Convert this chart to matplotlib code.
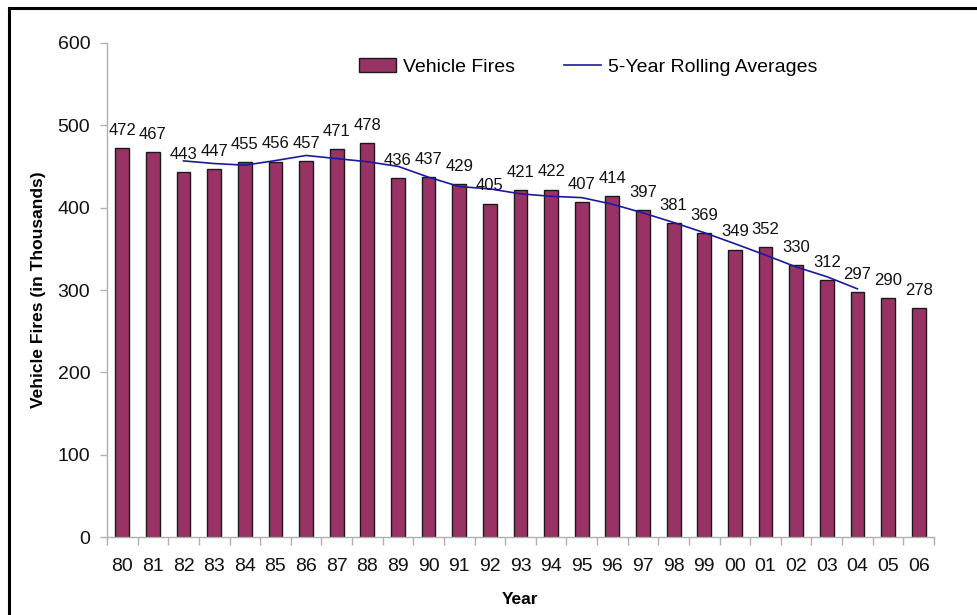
import matplotlib
matplotlib.use("Agg")
import matplotlib.pyplot as plt
from matplotlib.lines import Line2D
from matplotlib.patches import Patch

plt.rcParams['font.family'] = ['Liberation Sans', 'DejaVu Sans']

years = ["80", "81", "82", "83", "84", "85", "86", "87", "88", "89", "90", "91", "92",
         "93", "94", "95", "96", "97", "98", "99", "00", "01", "02", "03", "04", "05", "06"]
fires = [472, 467, 443, 447, 455, 456, 457, 471, 478, 436, 437, 429, 405,
         421, 422, 407, 414, 397, 381, 369, 349, 352, 330, 312, 297, 290, 278]
# 5-year rolling averages, plotted from 82 to 04
avg_years = ["82", "83", "84", "85", "86", "87", "88", "89", "90", "91", "92", "93",
             "94", "95", "96", "97", "98", "99", "00", "01", "02", "03", "04"]
avg_values = [456.8, 453.6, 451.6, 457.2, 463.4, 459.6, 455.8, 450.2, 437.0, 425.6,
              422.8, 416.8, 413.8, 412.2, 404.2, 393.6, 382.0, 369.6, 356.2, 342.4,
              328.0, 316.2, 301.4]

bar_color = "#993366"
line_color = "#1a1a9c"
axis_gray = "#b0b0b0"

fig = plt.figure(figsize=(9.77, 6.15), dpi=100)
ax = fig.add_axes([0.1095, 0.1268, 0.8465, 0.8033])

xpos = list(range(len(years)))
ax.bar(xpos, fires, width=0.45, color=bar_color, edgecolor="#1a1a1a", linewidth=1.0, zorder=2)

avg_x = [years.index(y) for y in avg_years]
ax.plot(avg_x, avg_values, color=line_color, linewidth=1.2, zorder=3)

for x, v in zip(xpos, fires):
    ax.annotate(str(v), (x, v), xytext=(0, 9.5), textcoords="offset points",
                ha="center", va="baseline", fontsize=12, color="#111111", zorder=4)

ax.set_xlim(-0.5, len(years) - 0.5)
ax.set_ylim(0, 600)
ax.set_yticks([0, 100, 200, 300, 400, 500, 600])
ax.set_xticks(xpos)
ax.set_xticklabels(years)
ax.set_xticks([i - 0.5 for i in range(len(years) + 1)], minor=True)

ax.tick_params(axis="x", which="major", length=0, pad=15, labelsize=14, colors="#111111")
ax.tick_params(axis="x", which="minor", length=6, color=axis_gray, width=1)
ax.tick_params(axis="y", which="major", length=5, color=axis_gray, width=1, pad=7,
               labelsize=14, labelcolor="#111111")

for s in ["top", "right"]:
    ax.spines[s].set_visible(False)
for s in ["left", "bottom"]:
    ax.spines[s].set_color(axis_gray)
    ax.spines[s].set_linewidth(1)

ax.set_xlabel("Year", fontsize=12.5, fontweight="bold", labelpad=12)
ax.set_ylabel("Vehicle Fires (in Thousands)", fontsize=12.5, fontweight="bold", labelpad=8)

handles = [Patch(facecolor=bar_color, edgecolor="#1a1a1a", linewidth=1.0),
           Line2D([0], [0], color=line_color, linewidth=1.2)]
ax.legend(handles, ["Vehicle Fires", "5-Year Rolling Averages"], ncol=2,
          loc="center", bbox_to_anchor=(0.582, 0.951), frameon=False, fontsize=14,
          handlelength=1.9, handleheight=0.67, handletextpad=0.36, columnspacing=2.5)

# figure frame (left and top edges)
fig.add_artist(Line2D([9 / 977, 9 / 977], [0, 1 - 8 / 615], transform=fig.transFigure,
                      color="black", linewidth=2.2))
fig.add_artist(Line2D([9 / 977, 1], [1 - 8 / 615, 1 - 8 / 615], transform=fig.transFigure,
                      color="black", linewidth=2.2))

fig.savefig("out.png", dpi=100)
